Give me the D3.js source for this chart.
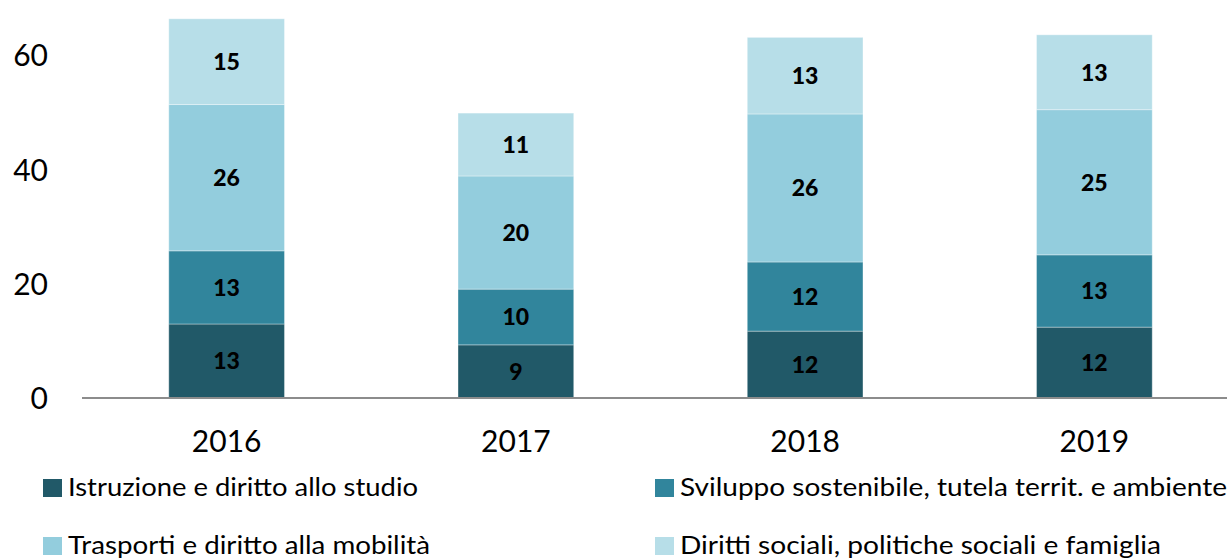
<!DOCTYPE html>
<html>
<head>
<meta charset="utf-8">
<script src="https://cdn.jsdelivr.net/npm/d3@7/dist/d3.min.js"></script>
<style>
  html, body { margin: 0; padding: 0; background: #fff; }
  svg { display: block; }
</style>
</head>
<body>
<svg id="chart" width="1227" height="559"></svg>
<script>
const years = ["2016", "2017", "2018", "2019"];
const seriesNames = [
  "Istruzione e diritto allo studio",
  "Sviluppo sostenibile, tutela territ. e ambiente",
  "Trasporti e diritto alla mobilità",
  "Diritti sociali, politiche sociali e famiglia"
];
const istruzione = [12.95, 9.3, 11.7, 12.4];
const sviluppo   = [12.8, 9.75, 12.1, 12.65];
const trasporti  = [25.6, 19.8, 25.9, 25.4];
const diritti    = [15.0, 11.0, 13.4, 13.1];
const yTicks = [0, 20, 40, 60];
const colors = ["#215968", "#31859c", "#93cddd", "#b7dee8"];

const seriesValues = [istruzione, sviluppo, trasporti, diritti];
const keys = ["s0", "s1", "s2", "s3"];
const table = years.map((yr, i) => {
  const row = { year: yr };
  keys.forEach((k, j) => row[k] = seriesValues[j][i]);
  return row;
});

const svg = d3.select("#chart");
const font = "Lato, 'Open Sans', 'DejaVu Sans', sans-serif";

const x = d3.scaleBand().domain(years).range([82, 1239]).paddingInner(0.6).paddingOuter(0.3);
const y = d3.scaleLinear().domain([0, 70]).range([398, 398 - 70 * 5.715]);

const stacked = d3.stack().keys(keys)(table);

const groups = svg.append("g").selectAll("g")
  .data(stacked).join("g")
  .attr("fill", (d, i) => colors[i]);

groups.selectAll("rect")
  .data(d => d.map(p => ({ p, year: p.data.year })))
  .join("rect")
  .attr("x", d => x(d.year))
  .attr("width", x.bandwidth())
  .attr("y", d => y(d.p[1]))
  .attr("height", d => y(d.p[0]) - y(d.p[1]))
  .attr("stroke", "rgba(255,255,255,0.35)")
  .attr("stroke-width", 1);

// value labels
groups.selectAll("text")
  .data(d => d.map(p => ({ p, year: p.data.year })))
  .join("text")
  .attr("x", d => x(d.year) + x.bandwidth() / 2)
  .attr("y", d => (y(d.p[0]) + y(d.p[1])) / 2)
  .attr("dy", "0.36em")
  .attr("text-anchor", "middle")
  .attr("fill", "#000")
  .style("font-family", font)
  .style("font-weight", "900")
  .style("font-size", "23px")
  .text(d => Math.round(d.p[1] - d.p[0]));

// x axis line
svg.append("line")
  .attr("x1", 82).attr("x2", 1227)
  .attr("y1", y(0)).attr("y2", y(0))
  .attr("stroke", "#8c8c8c").attr("stroke-width", 2);

// y tick labels
const yAxis = d3.axisLeft(y).tickValues(yTicks).tickSize(0).tickPadding(0);
const yg = svg.append("g").attr("transform", "translate(48,0)").call(yAxis);
yg.select(".domain").remove();
yg.selectAll("text")
  .attr("dy", "0.36em")
  .attr("fill", "#000")
  .style("font-family", font)
  .style("font-size", "30px");

// x tick labels
const xAxis = d3.axisBottom(x).tickSize(0).tickPadding(0);
const xg = svg.append("g").attr("transform", "translate(0,452)").call(xAxis);
xg.select(".domain").remove();
xg.selectAll("text")
  .attr("dy", "0")
  .attr("y", 0)
  .attr("fill", "#000")
  .style("font-family", font)
  .style("font-size", "30px");

// legend
const legendPos = [
  { x: 43, y: 479, w: 350 },
  { x: 655, y: 479, w: 547 },
  { x: 43, y: 537, w: 362 },
  { x: 655, y: 537, w: 481 }
];
const lg = svg.append("g").selectAll("g")
  .data(seriesNames).join("g")
  .attr("transform", (d, i) => `translate(${legendPos[i].x},${legendPos[i].y})`);
lg.append("rect")
  .attr("width", 19).attr("height", 18)
  .attr("fill", (d, i) => colors[i]);
lg.append("text")
  .attr("x", 25).attr("y", 17)
  .attr("fill", "#000")
  .style("font-family", font)
  .style("font-size", "25px")
  .attr("textLength", (d, i) => legendPos[i].w)
  .attr("lengthAdjust", "spacingAndGlyphs")
  .text(d => d);
</script>
</body>
</html>
